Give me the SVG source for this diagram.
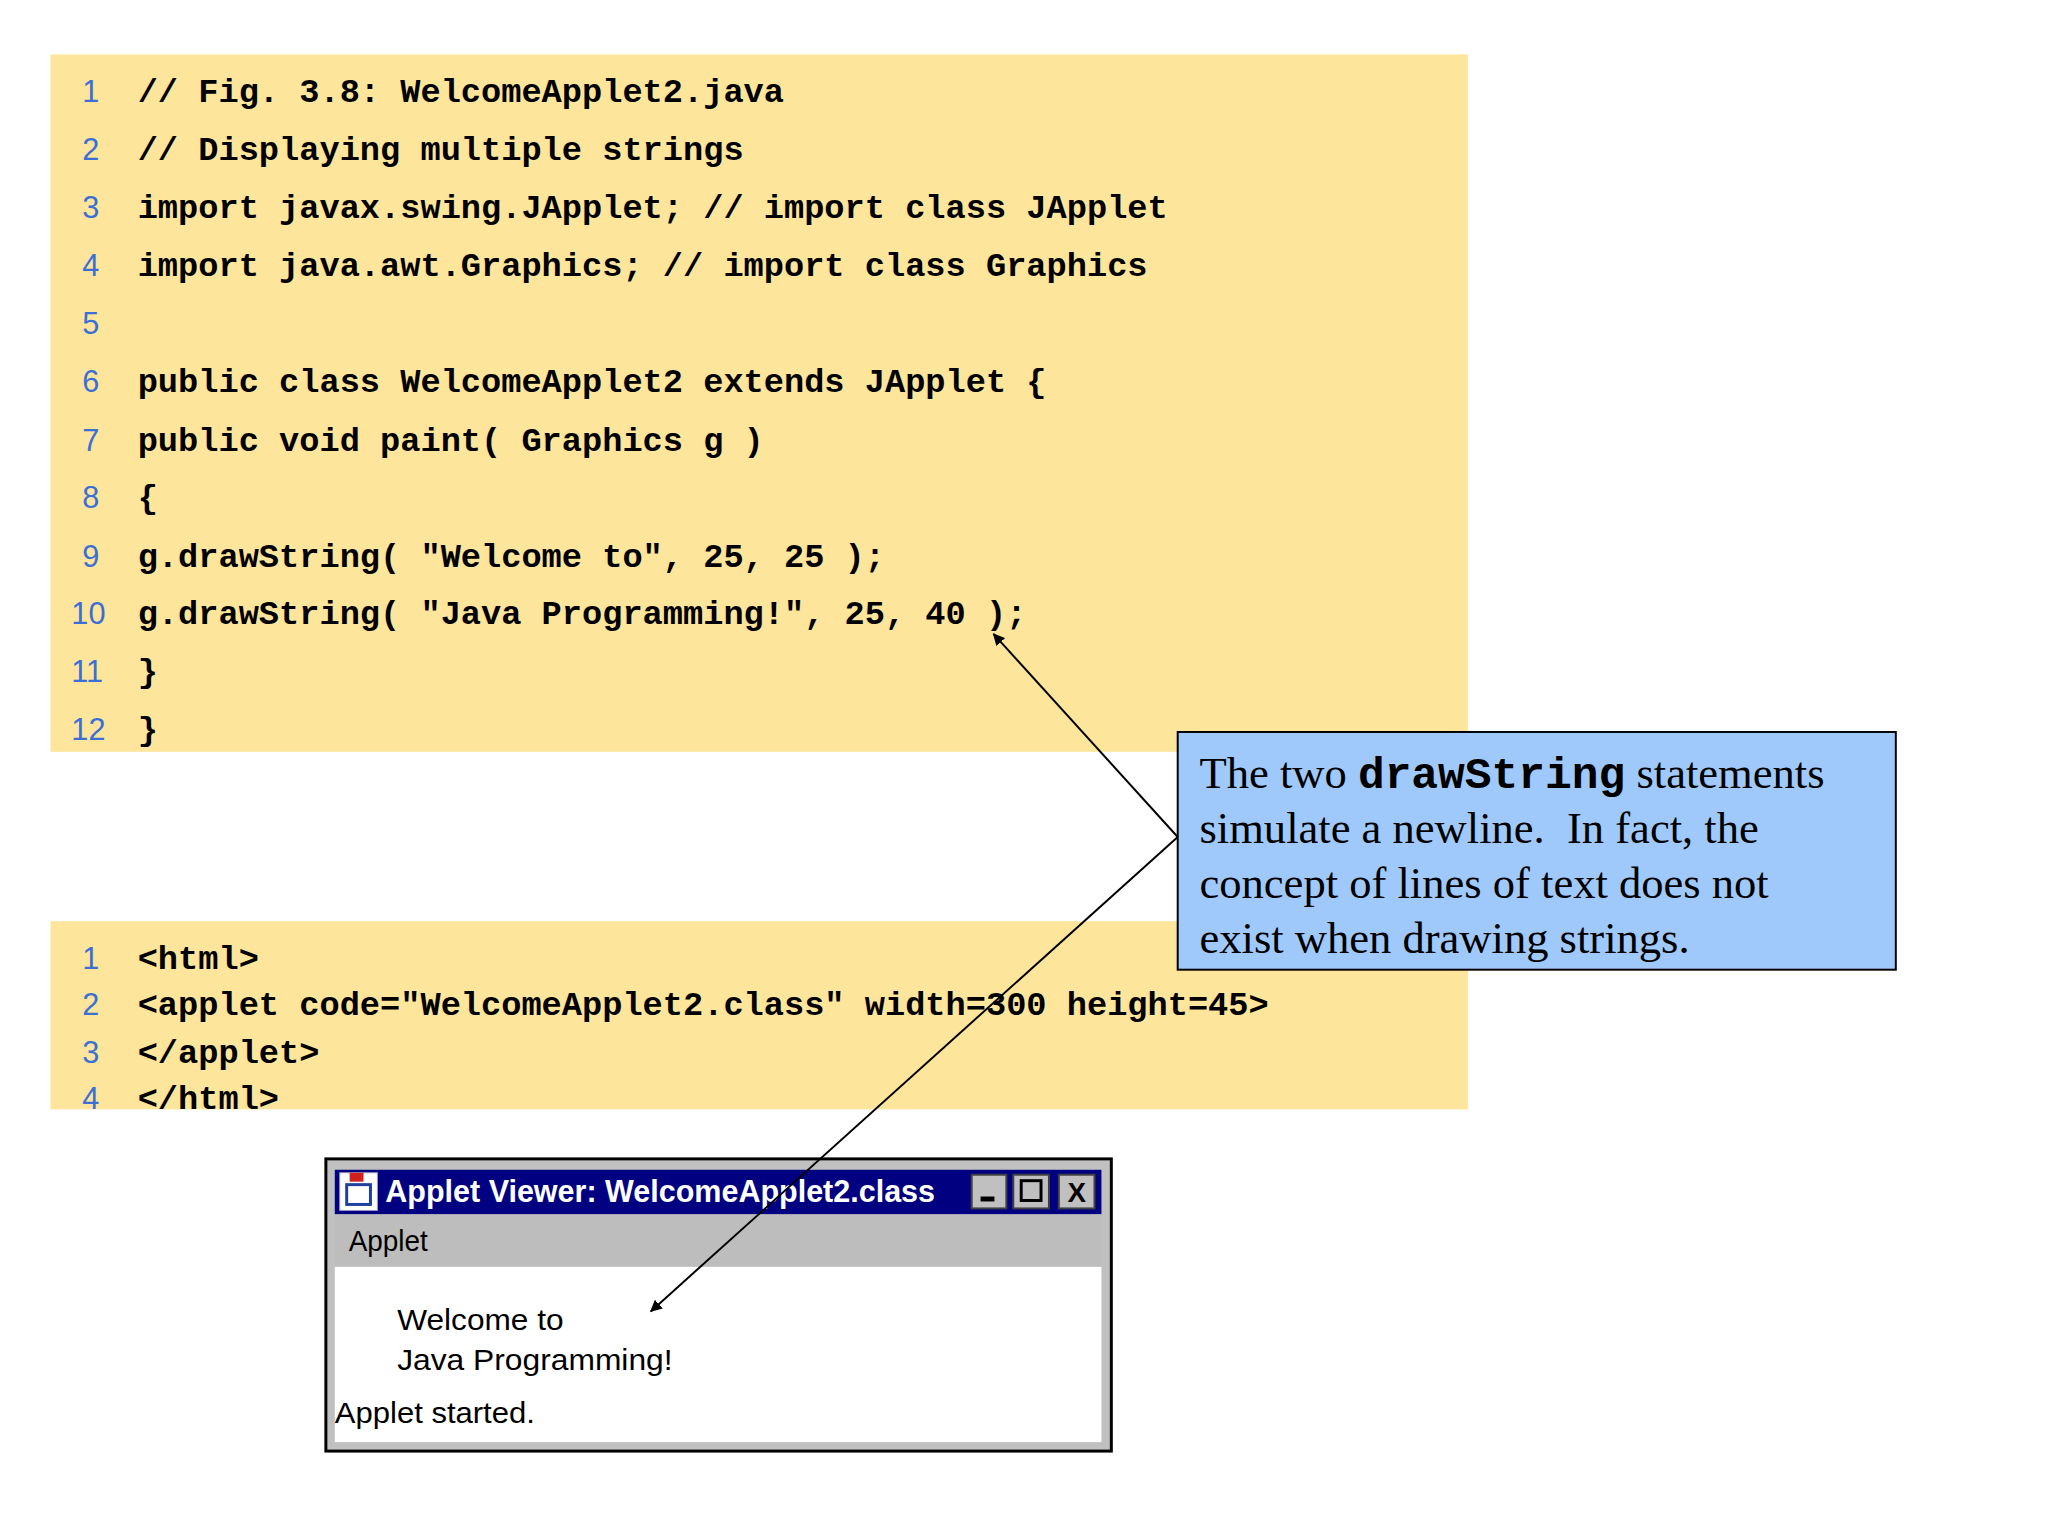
<svg xmlns="http://www.w3.org/2000/svg" width="2048" height="1536" viewBox="0 0 2048 1536">
<style>
.code{font-family:"Liberation Mono",monospace;font-weight:bold;font-size:34px;fill:#000;white-space:pre}
.num{font-family:"Liberation Sans",Arial,sans-serif;font-size:31px;fill:#3b6fd6}
.call{font-family:"Liberation Serif",serif;font-size:45px;fill:#000;white-space:pre}
.ui{font-family:"Liberation Sans",Arial,sans-serif;font-size:30px;fill:#000}
.conn{stroke:#000;stroke-width:2;fill:none}
</style>
<defs>
<marker id="ah" markerWidth="12" markerHeight="12" refX="11" refY="6" orient="auto" markerUnits="userSpaceOnUse"><path d="M0,0 L12,6 L0,12 Z" fill="#000"/></marker>
<clipPath id="c2"><rect x="51" y="930" width="1431" height="190"/></clipPath>
</defs>
<rect width="2048" height="1536" fill="#fff"/>
<g transform="scale(0.9905)">
<g id="javacode">
<rect x="51" y="55" width="1431" height="704" fill="#fde59b"/>
<g class="num">
<text x="83" y="103">1</text><text x="83" y="162">2</text><text x="83" y="220">3</text><text x="83" y="279">4</text><text x="83" y="337">5</text><text x="83" y="396">6</text><text x="83" y="455">7</text><text x="83" y="513">8</text><text x="83" y="572">9</text><text x="72" y="630">10</text><text x="72" y="689">11</text><text x="72" y="747">12</text>
</g>
<g class="code">
<text x="139" y="103">// Fig. 3.8: WelcomeApplet2.java</text>
<text x="139" y="162">// Displaying multiple strings</text>
<text x="139" y="220">import javax.swing.JApplet;  // import class JApplet</text>
<text x="139" y="279">import java.awt.Graphics;    // import class Graphics</text>
<text x="139" y="396">public class WelcomeApplet2 extends JApplet {</text>
<text x="139" y="455">   public void paint( Graphics g )</text>
<text x="139" y="513">   {</text>
<text x="139" y="572">      g.drawString( "Welcome to", 25, 25 );</text>
<text x="139" y="630">      g.drawString( "Java Programming!", 25, 40 );</text>
<text x="139" y="689">   }</text>
<text x="139" y="747">}</text>
</g>
</g>
<g id="htmlcode">
<rect x="51" y="930" width="1431" height="190" fill="#fde59b"/>
<g clip-path="url(#c2)">
<g class="num"><text x="83" y="978">1</text><text x="83" y="1025">2</text><text x="83" y="1073">3</text><text x="83" y="1120">4</text></g>
<g class="code">
<text x="139" y="978">&lt;html&gt;</text>
<text x="139" y="1025">&lt;applet code="WelcomeApplet2.class" width=300 height=45&gt;</text>
<text x="139" y="1073">&lt;/applet&gt;</text>
<text x="139" y="1120">&lt;/html&gt;</text>
</g>
</g>
</g>
<g id="window">
<rect x="329" y="1170" width="793" height="295" fill="#c0c0c0" stroke="#000" stroke-width="3"/>
<rect x="338" y="1181" width="774" height="45" fill="#000080"/>
<rect x="343" y="1184" width="38" height="38" fill="#fff" stroke="#a0a0c0"/>
<rect x="350" y="1196" width="24" height="20" fill="none" stroke="#2040a0" stroke-width="3"/>
<rect x="353" y="1184" width="14" height="9" fill="#d02020"/>
<text x="389" y="1214" font-family="Liberation Sans,Arial,sans-serif" font-weight="bold" font-size="31" fill="#fff" textLength="555" lengthAdjust="spacingAndGlyphs">Applet Viewer: WelcomeApplet2.class</text>
<g fill="#c0c0c0" stroke="#404040" stroke-width="2">
<rect x="981" y="1186" width="35" height="34"/><rect x="1023" y="1186" width="36" height="34"/><rect x="1069" y="1186" width="36" height="34"/>
</g>
<rect x="990" y="1208" width="14" height="5" fill="#000"/>
<rect x="1031" y="1192" width="20" height="20" fill="none" stroke="#000" stroke-width="3"/>
<text x="1087" y="1214" text-anchor="middle" font-family="Liberation Sans,Arial,sans-serif" font-weight="bold" font-size="28">X</text>
<rect x="338" y="1226" width="774" height="53" fill="#bdbdbd"/>
<text class="ui" x="352" y="1263" textLength="80" lengthAdjust="spacingAndGlyphs">Applet</text>
<rect x="338" y="1279" width="774" height="177" fill="#fff"/>
<text class="ui" x="401" y="1343" textLength="168" lengthAdjust="spacingAndGlyphs">Welcome to</text>
<text class="ui" x="401" y="1383" textLength="278" lengthAdjust="spacingAndGlyphs">Java Programming!</text>
<text class="ui" x="338" y="1437" textLength="202" lengthAdjust="spacingAndGlyphs">Applet started.</text>
</g>
<g id="callout">
<rect x="1189" y="739" width="725" height="240" fill="#9fc9fb" stroke="#000" stroke-width="2"/>
<text class="call" x="1211" y="796">The two <tspan font-family="Liberation Mono,monospace" font-weight="bold">drawString</tspan> statements</text>
<text class="call" x="1211" y="851">simulate a newline.  In fact, the</text>
<text class="call" x="1211" y="907">concept of lines of text does not</text>
<text class="call" x="1211" y="962">exist when drawing strings.</text>
</g>
<g id="connectors">
<line class="conn" x1="1189" y1="845" x2="1003" y2="640" marker-end="url(#ah)"/>
<line class="conn" x1="1189" y1="845" x2="657" y2="1324" marker-end="url(#ah)"/>
</g>
</g>
</svg>
